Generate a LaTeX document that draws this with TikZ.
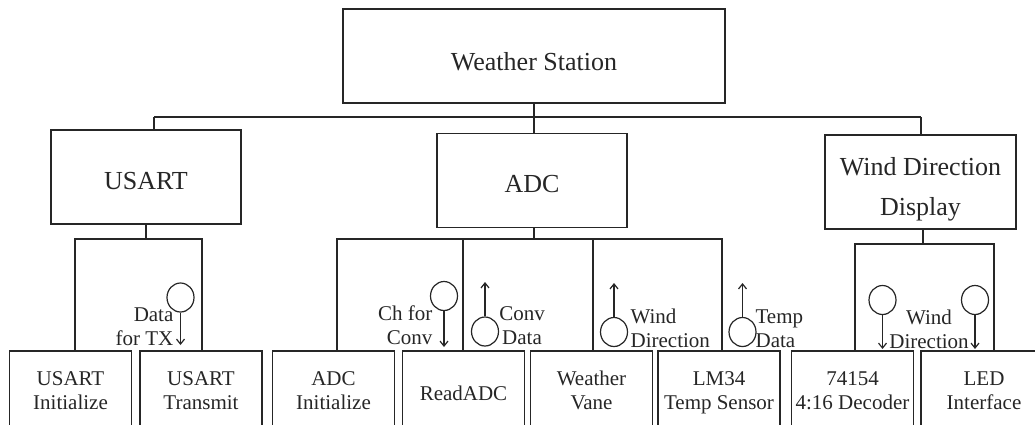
\documentclass[tikz,border=0pt]{standalone}
\usepackage{fontspec}
\setmainfont{Liberation Serif}
\usetikzlibrary{arrows.meta,shapes.geometric}
\begin{document}
\begin{tikzpicture}[x=1pt,y=-1pt,
  line width=1.2pt, color=black!85,
  box/.style={draw, rectangle, inner sep=0pt, align=center},
  bigbox/.style={box, minimum width=190pt, minimum height=94pt,
    font=\fontsize{26}{40}\selectfont, text depth=0pt},
  leafbox/.style={box, minimum width=122pt, minimum height=80pt,
    font=\fontsize{21}{23.5}\selectfont, text height=36pt, text depth=0pt},
  flowlbl/.style={inner sep=0pt, font=\fontsize{21}{23.5}\selectfont},
  store/.style={draw, ellipse, inner sep=0pt, minimum width=27pt, minimum height=29pt},
  flow/.style={-{Straight Barb[length=5pt,width=8pt]}},
]
\path[use as bounding box] (0,0) rectangle (1035,424);
\clip (0,0) rectangle (1035,424);

% top level
\node[bigbox, minimum width=382pt, text height=28pt] (ws) at (534,56) {Weather Station};
\node[bigbox, text height=25pt] (usart) at (146,177) {USART};
\node[bigbox, text height=23pt] (adc) at (532,180.5) {ADC};
\node[bigbox, minimum width=191pt, text height=66pt] (wdd) at (920.5,182) {Wind Direction\\Display};

% leaf modules (their lower edges run off the page)
\node[leafbox] (uinit) at (70.5,391) {USART\\Initialize};
\node[leafbox] (utx)   at (201,391)  {USART\\Transmit};
\node[leafbox] (ainit) at (333.5,391) {ADC\\Initialize};
\node[leafbox, text height=18pt] (rd) at (463.5,391) {ReadADC};
\node[leafbox] (vane)  at (591.5,391) {Weather\\Vane};
\node[leafbox] (lm34)  at (719,391)  {LM34\\Temp Sensor};
\node[leafbox] (dec)   at (852.5,391) {74154\\4:16 Decoder};
\node[leafbox, minimum width=126pt] (led) at (984,391) {LED\\Interface};

% first level of the tree
\coordinate (busL) at (154,117);
\coordinate (busR) at (921,117);
\draw (ws.south) -- (ws.south |- adc.north);
\draw (busL) -- (busR);
\draw (busL) -- (busL |- usart.north);
\draw (busR) -- (busR |- wdd.north);

% USART children
\coordinate (uL) at (75,239);
\coordinate (uR) at (202,239);
\draw (usart.south) -- (usart.south |- uL);
\draw (uL |- uinit.north) -- (uL) -- (uR) -- (uR |- utx.north);

% ADC children
\coordinate (a0) at (534,239);
\coordinate (a1) at (337,239);
\coordinate (a2) at (463,239);
\coordinate (a3) at (593,239);
\coordinate (a4) at (722,239);
\draw (a0 |- adc.south) -- (a0);
\draw (a1 |- ainit.north) -- (a1) -- (a4) -- (a4 |- lm34.north);
\draw (a2) -- (a2 |- rd.north);
\draw (a3) -- (a3 |- vane.north);

% display children
\coordinate (w0) at (923,244);
\coordinate (w1) at (855,244);
\coordinate (w2) at (994,244);
\draw (w0 |- wdd.south) -- (w0);
\draw (w1 |- dec.north) -- (w1) -- (w2) -- (w2 |- led.north);

% data couples
\node[store] (s1) at (180.5,297.5) {};
\coordinate (s1t) at (180.5,345);
\draw[flow] (s1.south) -- (s1t);
\node[flowlbl, align=right, anchor=base east] (l1) at (174,345) {Data\\for TX};

\node[store] (s2) at (444,296) {};
\coordinate (s2t) at (444,347);
\draw[flow] (s2.south) -- (s2t);
\node[flowlbl, align=right, anchor=base east] (l2) at (433,344) {Ch for\\Conv};

\node[store] (s3) at (485,331.5) {};
\coordinate (s3t) at (485,282);
\draw[flow] (s3.north) -- (s3t);
\node[flowlbl, align=center, anchor=base] (l3) at (522,344) {Conv\\Data};

\node[store] (s4) at (614,332) {};
\coordinate (s4t) at (614,283);
\draw[flow] (s4.north) -- (s4t);
\node[flowlbl, align=left, anchor=base west] (l4) at (630,347) {Wind\\Direction};

\node[store] (s5) at (742.5,332) {};
\coordinate (s5t) at (742.5,283);
\draw[flow] (s5.north) -- (s5t);
\node[flowlbl, align=left, anchor=base west] (l5) at (755,347) {Temp\\Data};

\node[store] (s6) at (882.5,300) {};
\coordinate (s6t) at (882.5,349);
\draw[flow] (s6.south) -- (s6t);
\node[store] (s7) at (975,300) {};
\coordinate (s7t) at (975,349);
\draw[flow] (s7.south) -- (s7t);
\node[flowlbl, align=center, anchor=base] (l6) at (929,348) {Wind\\Direction};
\end{tikzpicture}
\end{document}
